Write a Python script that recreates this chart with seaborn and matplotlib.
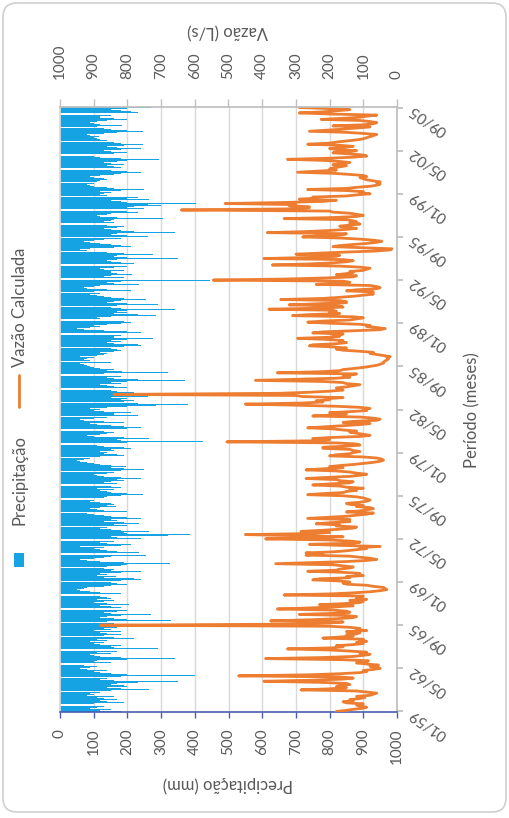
import numpy as np
import matplotlib
matplotlib.use("Agg")
import matplotlib.pyplot as plt
import seaborn as sns
from matplotlib.patches import Rectangle, FancyBboxPatch
from matplotlib.lines import Line2D

sns.set_theme(style="white")
plt.rcParams["font.family"] = ["Lato", "DejaVu Sans"]

# Precipitação mensal (mm), janeiro a dezembro, uma linha por ano
precipitacao_1959_1968 = [
    180, 120, 150, 90, 110, 130, 160, 100, 190, 140, 120, 170,
    130, 110, 160, 80, 100, 90, 120, 150, 265, 180, 140, 200,
    190, 150, 170, 230, 350, 160, 120, 140, 180, 400, 200, 150,
    120, 100, 140, 80, 60, 90, 110, 70, 130, 150, 100, 110,
    200, 340, 180, 120, 100, 90, 150, 110, 170, 230, 290, 160,
    150, 180, 120, 100, 130, 90, 140, 110, 220, 160, 130, 180,
    140, 120, 180, 100, 150, 130, 170, 190, 215, 220, 160, 140,
    330, 200, 160, 120, 140, 180, 270, 150, 130, 170, 200, 315,
    180, 150, 120, 205, 140, 100, 130, 160, 110, 150, 140, 120,
    305, 180, 120, 90, 60, 50, 70, 80, 130, 150, 200, 170,
]
precipitacao_1969_1978 = [
    150, 180, 240, 220, 130, 165, 110, 140, 120, 180, 240, 150,
    160, 130, 140, 180, 200, 325, 190, 120, 80, 60, 100, 130,
    150, 255, 200, 235, 170, 140, 120, 100, 130, 60, 180, 210,
    140, 120, 160, 210, 240, 170, 150, 320, 385, 200, 190, 265,
    180, 150, 120, 140, 200, 160, 235, 190, 130, 170, 150, 240,
    200, 150, 130, 100, 80, 200, 130, 110, 90, 120, 165, 140,
    160, 150, 120, 90, 100, 110, 130, 140, 180, 245, 200, 150,
    140, 120, 160, 110, 180, 150, 230, 170, 130, 150, 190, 170,
    240, 180, 130, 110, 100, 140, 160, 180, 250, 190, 150, 195,
    150, 120, 100, 80, 60, 50, 70, 90, 120, 190, 170, 130,
]
precipitacao_1979_1988 = [
    140, 120, 160, 150, 210, 190, 130, 110, 150, 200, 425, 180,
    170, 265, 190, 100, 80, 120, 140, 160, 130, 180, 200, 240,
    190, 150, 110, 90, 190, 130, 70, 60, 100, 140, 230, 160,
    160, 210, 130, 100, 120, 90, 140, 200, 285, 380, 230, 190,
    220, 180, 200, 150, 260, 230, 340, 180, 220, 170, 150, 190,
    200, 160, 140, 120, 180, 150, 200, 370, 230, 160, 140, 180,
    150, 130, 320, 185, 140, 160, 120, 100, 90, 80, 70, 60,
    150, 90, 70, 80, 100, 60, 110, 130, 140, 120, 160, 180,
    170, 150, 190, 240, 230, 160, 140, 180, 150, 200, 275, 160,
    160, 180, 150, 240, 200, 130, 70, 50, 90, 120, 100, 140,
]
precipitacao_1989_1998 = [
    180, 210, 190, 130, 120, 110, 150, 285, 230, 160, 200, 170,
    200, 340, 180, 150, 170, 290, 200, 140, 160, 180, 255, 190,
    150, 130, 110, 90, 120, 100, 210, 140, 80, 70, 100, 120,
    235, 160, 140, 180, 445, 260, 190, 130, 150, 215, 170, 150,
    150, 190, 130, 120, 160, 200, 335, 220, 180, 150, 140, 170,
    350, 200, 160, 170, 275, 190, 140, 80, 60, 90, 160, 210,
    180, 150, 120, 90, 70, 100, 130, 180, 260, 200, 150, 170,
    340, 220, 180, 150, 130, 170, 190, 140, 120, 160, 130, 150,
    160, 305, 170, 120, 110, 140, 150, 230, 200, 315, 250, 200,
    220, 300, 260, 405, 200, 180, 150, 265, 200, 230, 140, 120,
]
precipitacao_1999_2005 = [
    130, 150, 120, 180, 250, 160, 140, 100, 90, 80, 100, 110,
    120, 140, 130, 100, 90, 120, 160, 180, 240, 200, 150, 145,
    180, 160, 140, 190, 150, 130, 170, 200, 295, 180, 120, 100,
    140, 160, 200, 150, 130, 180, 240, 170, 140, 190, 245, 180,
    160, 140, 120, 110, 100, 115, 90, 80, 130, 170, 245, 200,
    150, 130, 110, 185, 120, 100, 90, 110, 140, 200, 160, 120,
    120, 150, 275, 230, 210, 180, 150, 200, 270,
]

# Vazão calculada mensal (L/s)
vazao_1959_1968 = [
    180, 150, 130, 100, 90, 110, 120, 100, 150, 160, 130, 140,
    110, 95, 120, 80, 70, 60, 90, 120, 285, 200, 150, 180,
    170, 140, 150, 230, 395, 250, 160, 130, 170, 470, 260, 170,
    110, 90, 100, 70, 50, 60, 80, 55, 90, 120, 90, 85,
    160, 390, 220, 130, 100, 80, 110, 90, 140, 200, 325, 190,
    160, 180, 130, 100, 120, 90, 110, 100, 220, 170, 130, 150,
    120, 110, 150, 90, 120, 110, 140, 200, 880, 300, 200, 160,
    375, 260, 180, 130, 120, 150, 290, 180, 140, 150, 190, 355,
    260, 180, 130, 230, 160, 110, 100, 140, 90, 120, 110, 100,
    335, 200, 130, 80, 50, 30, 35, 40, 70, 90, 150, 160,
]
vazao_1969_1978 = [
    140, 170, 250, 230, 140, 150, 100, 120, 110, 160, 265, 180,
    170, 140, 130, 160, 190, 360, 250, 150, 90, 60, 80, 110,
    140, 270, 220, 270, 190, 150, 120, 90, 110, 50, 170, 260,
    130, 110, 140, 200, 390, 230, 160, 300, 450, 250, 200, 285,
    220, 170, 130, 120, 180, 170, 240, 200, 140, 150, 140, 265,
    210, 150, 120, 90, 70, 150, 110, 90, 70, 80, 120, 100,
    140, 150, 110, 90, 80, 90, 100, 120, 160, 265, 220, 160,
    150, 120, 140, 100, 150, 170, 250, 200, 140, 130, 170, 180,
    270, 210, 140, 110, 90, 120, 140, 180, 270, 220, 160, 200,
    170, 130, 100, 70, 50, 40, 45, 60, 100, 200, 180, 140,
]
vazao_1979_1988 = [
    130, 110, 130, 140, 220, 220, 150, 110, 120, 180, 505, 240,
    200, 250, 200, 110, 80, 100, 120, 140, 120, 160, 190, 265,
    210, 160, 110, 80, 160, 130, 60, 50, 70, 110, 250, 180,
    150, 200, 140, 90, 100, 80, 110, 180, 300, 450, 280, 220,
    240, 200, 210, 160, 280, 300, 840, 350, 260, 200, 160, 170,
    180, 150, 130, 110, 150, 160, 220, 420, 300, 180, 140, 160,
    140, 120, 355, 230, 170, 160, 130, 100, 80, 60, 50, 40,
    40, 35, 30, 25, 30, 20, 40, 60, 80, 70, 110, 160,
    180, 150, 190, 260, 250, 180, 150, 170, 160, 210, 295, 200,
    170, 190, 160, 250, 220, 130, 50, 35, 60, 90, 80, 110,
]
vazao_1989_1998 = [
    200, 265, 220, 140, 120, 100, 130, 310, 260, 170, 200, 180,
    190, 380, 230, 160, 170, 320, 240, 150, 150, 170, 345, 220,
    170, 130, 100, 70, 80, 70, 150, 120, 60, 50, 60, 80,
    240, 170, 140, 160, 545, 330, 210, 130, 120, 180, 150, 130,
    140, 100, 90, 80, 110, 170, 370, 260, 190, 150, 130, 160,
    395, 260, 180, 170, 300, 230, 150, 60, 20, 15, 100, 190,
    170, 130, 90, 60, 45, 70, 110, 170, 280, 230, 160, 150,
    385, 270, 200, 150, 120, 150, 170, 140, 110, 140, 120, 130,
    150, 335, 190, 120, 100, 120, 140, 190, 200, 640, 330, 260,
    260, 320, 300, 510, 330, 220, 180, 290, 240, 250, 150, 120,
]
vazao_1999_2005 = [
    80, 110, 100, 150, 265, 150, 120, 80, 60, 50, 60, 50,
    70, 90, 100, 110, 90, 100, 140, 190, 295, 240, 180, 200,
    190, 170, 150, 190, 160, 140, 170, 220, 325, 200, 130, 90,
    100, 140, 190, 150, 120, 180, 200, 160, 130, 170, 265, 200,
    180, 150, 120, 100, 90, 80, 70, 60, 100, 150, 260, 210,
    160, 120, 80, 190, 100, 70, 60, 80, 110, 225, 160, 110,
    90, 60, 200, 290, 220, 180, 140, 200, 290,
]

# Rótulos do eixo de período (a cada 40 meses)
periodo_rotulos = ["01/59", "05/62", "09/65", "01/69", "05/72", "09/75", "01/79",
                   "05/82", "09/85", "01/89", "05/92", "09/95", "01/99", "05/02", "09/05"]
escala_valores = [0, 100, 200, 300, 400, 500, 600, 700, 800, 900, 1000]

precipitacao = (precipitacao_1959_1968 + precipitacao_1969_1978 + precipitacao_1979_1988
                + precipitacao_1989_1998 + precipitacao_1999_2005)
vazao = (vazao_1959_1968 + vazao_1969_1978 + vazao_1979_1988
         + vazao_1989_1998 + vazao_1999_2005)
meses = np.arange(len(precipitacao))
periodo_pos = np.arange(len(periodo_rotulos)) * 40

AZUL = "#16A3E3"
LARANJA = "#ED7D31"
CINZA_TXT = "#595959"
CINZA_LINHA = "#D9D9D9"
W, H = 509, 818

def fpos(x, y):
    return x / W, 1 - y / H

fig = plt.figure(figsize=(W / 100, H / 100), dpi=100)
fig.patch.set_facecolor("white")

# cartão com cantos arredondados
card = FancyBboxPatch((0.03, 0.06), W / 100 - 0.06, H / 100 - 0.09,
                      boxstyle="round,pad=0,rounding_size=0.14",
                      transform=fig.dpi_scale_trans, facecolor="white",
                      edgecolor="#CFCFCF", linewidth=1.2, zorder=-10)
fig.add_artist(card)

left, top = fpos(60, 107)
right, bottom = fpos(397, 712)
ax = fig.add_axes([left, bottom, right - left, top - bottom])
ax.patch.set_alpha(0)

sns.barplot(x=precipitacao, y=meses, orient="y", native_scale=True, color=AZUL,
            saturation=1, width=0.9, linewidth=0, errorbar=None, ax=ax)

ax2 = ax.twiny()
sns.lineplot(x=vazao, y=meses, sort=False, estimator=None, color=LARANJA,
             linewidth=2.0, ax=ax2)

ax.set_xlim(0, 1000)
ax2.set_xlim(1000, 0)
ax.set_ylim(-0.5, len(meses) - 0.5)

# grade vertical
ax.set_axisbelow(True)
ax.grid(axis="x", color=CINZA_LINHA, linewidth=1.0)
ax.grid(axis="y", visible=False)
ax2.grid(False)

# eixo de precipitação (inferior)
ax.set_xticks(escala_valores)
ax.set_xticklabels([str(v) for v in escala_valores], rotation=90)
ax.tick_params(axis="x", bottom=True, direction="out", length=4, width=1,
               color="#4A5DB0", pad=8, labelsize=11, labelcolor=CINZA_TXT)

# eixo de vazão (superior)
ax2.set_xticks(escala_valores)
ax2.set_xticklabels([str(v) for v in escala_valores], rotation=90)
ax2.tick_params(axis="x", top=True, direction="out", length=6, width=1,
                color="#BFBFBF", pad=14, labelsize=11, labelcolor=CINZA_TXT)

# eixo de período (direita)
ax.yaxis.tick_right()
ax.set_yticks(periodo_pos)
ax.set_yticklabels(periodo_rotulos, rotation=145, rotation_mode="anchor",
                   ha="right", va="center")
ax.tick_params(axis="y", right=True, left=False, direction="out", length=4,
               color="#BFBFBF", pad=6, labelsize=11, labelcolor=CINZA_TXT)

ax.set_xlabel("")
ax.set_ylabel("")
ax2.set_xlabel("")
ax2.set_ylabel("")

ax.spines["top"].set_visible(False)
ax.spines["bottom"].set_color("#4A5DB0")
ax.spines["bottom"].set_linewidth(1.2)
ax.spines["right"].set_color("#BFBFBF")
ax.spines["left"].set_color(CINZA_LINHA)
for s in ["bottom", "left", "right"]:
    ax2.spines[s].set_visible(False)
ax2.spines["top"].set_color("#BFBFBF")

# títulos dos eixos
fig.text(*fpos(228, 784), "Precipitação (mm)", rotation=180, ha="center",
         va="center", fontsize=12, color=CINZA_TXT)
fig.text(*fpos(228, 31), "Vazão (L/s)", rotation=180, ha="center",
         va="center", fontsize=12, color=CINZA_TXT)
fig.text(*fpos(472, 410), "Período (meses)", rotation=90, ha="center",
         va="center", fontsize=12, color=CINZA_TXT)

# legenda
fig.add_artist(Rectangle(fpos(14, 567), 10 / W, 14 / H, transform=fig.transFigure,
                         facecolor=AZUL, edgecolor="none"))
fig.text(*fpos(20, 480), "Precipitação", rotation=90, ha="center", va="center",
         fontsize=12, color=CINZA_TXT)
fig.add_artist(Line2D([19 / W, 19 / W], [1 - 407 / H, 1 - 375 / H],
                      transform=fig.transFigure, color=LARANJA, linewidth=2))
fig.text(*fpos(20, 307), "Vazão Calculada", rotation=90, ha="center", va="center",
         fontsize=12, color=CINZA_TXT)

fig.savefig("out.png", dpi=100)
